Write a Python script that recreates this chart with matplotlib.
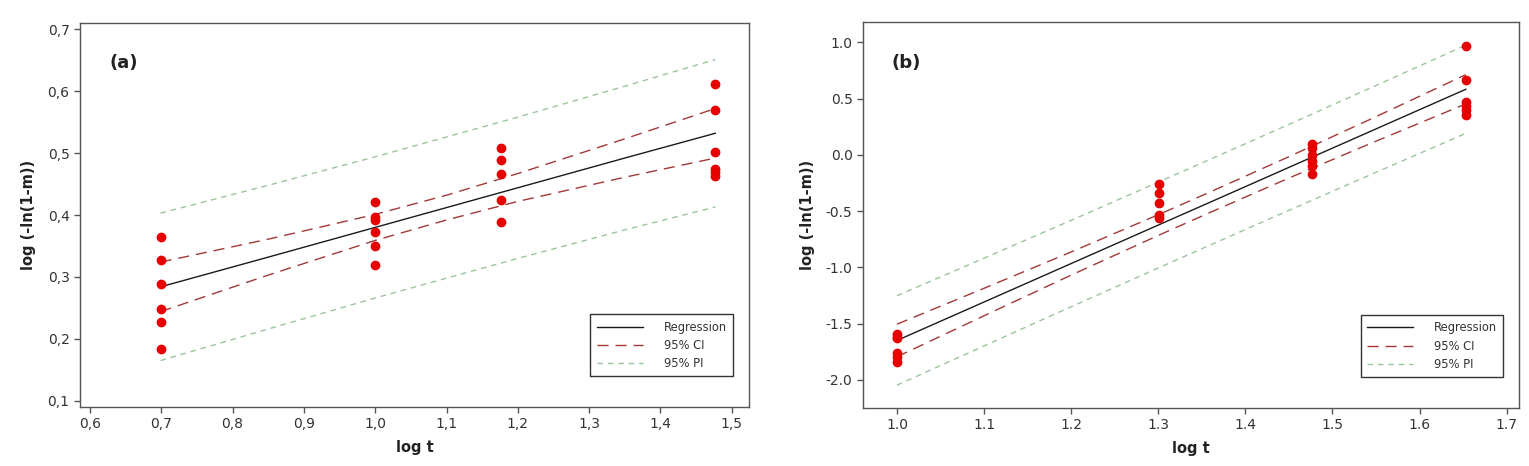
import matplotlib
matplotlib.use("Agg")
import matplotlib.pyplot as plt
from matplotlib.ticker import FuncFormatter, MultipleLocator

# ---- panel (a) data ----
a_x_pts = [0.699] * 6 + [1.0] * 6 + [1.176] * 5 + [1.477] * 6
a_y_pts = [0.365, 0.327, 0.288, 0.248, 0.227, 0.183,
           0.421, 0.397, 0.392, 0.372, 0.350, 0.320,
           0.509, 0.489, 0.467, 0.424, 0.389,
           0.612, 0.570, 0.502, 0.475, 0.469, 0.463]
a_line_x = [0.699, 0.85, 1.0, 1.1, 1.2, 1.35, 1.477]
a_reg = [0.284, 0.332, 0.380, 0.412, 0.444, 0.492, 0.532]
a_ci_hi = [0.324, 0.361, 0.401, 0.432, 0.467, 0.523, 0.572]
a_ci_lo = [0.244, 0.303, 0.359, 0.392, 0.422, 0.461, 0.492]
a_pi_hi = [0.403, 0.448, 0.494, 0.526, 0.558, 0.608, 0.651]
a_pi_lo = [0.165, 0.216, 0.266, 0.298, 0.330, 0.376, 0.413]

# ---- panel (b) data ----
b_x_pts = [1.0] * 6 + [1.301] * 5 + [1.477] * 6 + [1.653] * 6
b_y_pts = [-1.59, -1.62, -1.63, -1.76, -1.80, -1.84,
           -0.255, -0.339, -0.430, -0.534, -0.563,
           0.10, 0.06, 0.00, -0.05, -0.10, -0.17,
           0.967, 0.662, 0.472, 0.434, 0.399, 0.354]
b_line_x = [1.0, 1.1, 1.2, 1.3, 1.358, 1.45, 1.55, 1.653]
b_reg = [-1.650, -1.308, -0.966, -0.624, -0.426, -0.111, 0.231, 0.583]
b_ci_hi = [-1.505, -1.186, -0.863, -0.532, -0.335, -0.016, 0.340, 0.713]
b_ci_lo = [-1.795, -1.430, -1.069, -0.716, -0.517, -0.206, 0.122, 0.453]
b_pi_hi = [-1.2525, -0.918, -0.582, -0.2425, -0.045, 0.271, 0.617, 0.975]
b_pi_lo = [-2.0475, -1.698, -1.350, -1.0055, -0.807, -0.493, -0.155, 0.191]

REG_COLOR = "#1a1a1a"
CI_COLOR = "#a23838"
PI_COLOR = "#9cc49c"
PT_COLOR = "#e60000"
TXT_COLOR = "#333333"

plt.rcParams["font.family"] = ["DejaVu Sans"]


def draw_panel(ax, x_pts, y_pts, lx, reg, ci_hi, ci_lo, pi_hi, pi_lo, tag):
    ax.plot(lx, reg, color=REG_COLOR, lw=1.0, label="Regression", zorder=3)
    ax.plot(lx, ci_hi, color=CI_COLOR, lw=1.0, dashes=(8, 5), label="95% CI", zorder=3)
    ax.plot(lx, ci_lo, color=CI_COLOR, lw=1.0, dashes=(8, 5), zorder=3)
    ax.plot(lx, pi_hi, color=PI_COLOR, lw=1.0, dashes=(4, 3.5), label="95% PI", zorder=3)
    ax.plot(lx, pi_lo, color=PI_COLOR, lw=1.0, dashes=(4, 3.5), zorder=3)
    ax.plot(x_pts, y_pts, "o", color=PT_COLOR, ms=6, mec=PT_COLOR, zorder=4, linestyle="none")

    for side in ["top", "right", "left", "bottom"]:
        ax.spines[side].set_color("#555555")
        ax.spines[side].set_linewidth(1.0)
    ax.tick_params(direction="out", length=4, width=1, color="#555555",
                   labelsize=10, labelcolor=TXT_COLOR, top=False, right=False)
    ax.set_xlabel("log t", fontsize=10.5, fontweight="bold", color="#222222", labelpad=6)
    ax.set_ylabel("log (-ln(1-m))", fontsize=10.5, fontweight="bold", color="#222222", labelpad=8)
    ax.text(0.044, 0.895, tag, transform=ax.transAxes, fontsize=13, fontweight="bold",
            color="#222222", va="center", ha="left")

    leg = ax.legend(loc="lower right", bbox_to_anchor=(0.985, 0.065), fontsize=8.3,
                    frameon=True, fancybox=False, framealpha=1, edgecolor="#333333",
                    handlelength=4.0, handletextpad=1.8, borderpad=0.55, labelspacing=0.45)
    leg.get_frame().set_linewidth(1.0)
    for t in leg.get_texts():
        t.set_color(TXT_COLOR)
    return leg


fig = plt.figure(figsize=(15.29, 4.66), dpi=100)

ax1 = fig.add_axes([0.0523, 0.1266, 0.4375, 0.824])
draw_panel(ax1, a_x_pts, a_y_pts, a_line_x, a_reg, a_ci_hi, a_ci_lo, a_pi_hi, a_pi_lo, "(a)")
ax1.set_xlim(0.586, 1.524)
ax1.set_ylim(0.09, 0.71)
ax1.xaxis.set_major_locator(MultipleLocator(0.1))
ax1.yaxis.set_major_locator(MultipleLocator(0.1))
comma = FuncFormatter(lambda v, p: f"{v:.1f}".replace(".", ","))
ax1.xaxis.set_major_formatter(comma)
ax1.yaxis.set_major_formatter(comma)

ax2 = fig.add_axes([0.5644, 0.1245, 0.429, 0.828])
draw_panel(ax2, b_x_pts, b_y_pts, b_line_x, b_reg, b_ci_hi, b_ci_lo, b_pi_hi, b_pi_lo, "(b)")
ax2.set_xlim(0.961, 1.714)
ax2.set_ylim(-2.25, 1.18)
ax2.xaxis.set_major_locator(MultipleLocator(0.1))
ax2.yaxis.set_major_locator(MultipleLocator(0.5))
ax2.xaxis.set_major_formatter(FuncFormatter(lambda v, p: f"{v:.1f}"))
ax2.yaxis.set_major_formatter(FuncFormatter(lambda v, p: f"{v:.1f}"))

fig.savefig("out.png", dpi=100)
